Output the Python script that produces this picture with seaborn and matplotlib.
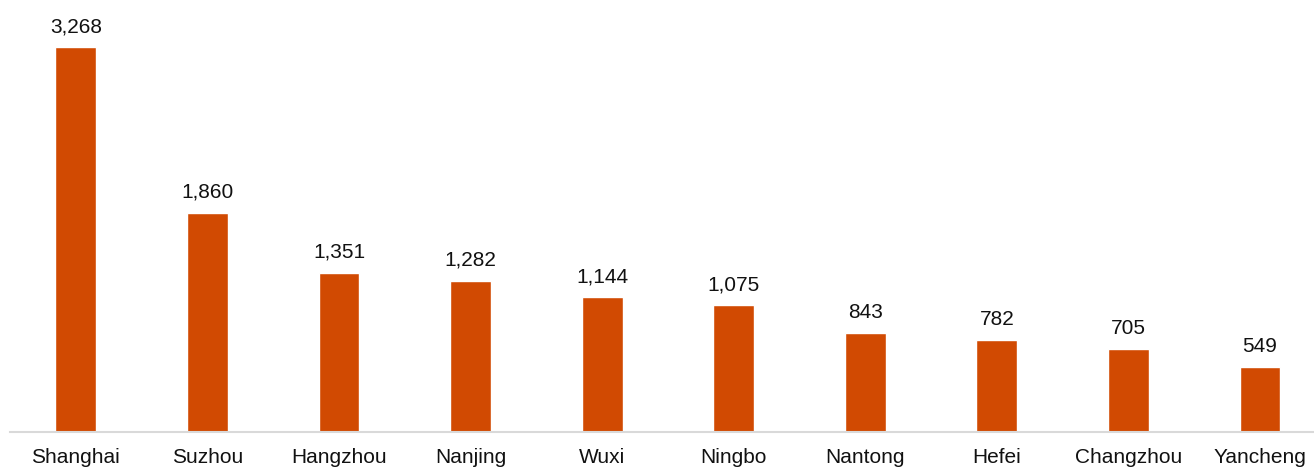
import matplotlib
matplotlib.use("Agg")
import matplotlib.pyplot as plt
import seaborn as sns

cities = ["Shanghai", "Suzhou", "Hangzhou", "Nanjing", "Wuxi",
          "Ningbo", "Nantong", "Hefei", "Changzhou", "Yancheng"]
values = [3268, 1860, 1351, 1282, 1144, 1075, 843, 782, 705, 549]

bar_color = "#D14A02"

sns.set_theme(style="white")
plt.rcParams["font.family"] = ["Liberation Sans", "DejaVu Sans"]

fig = plt.figure(figsize=(13.14, 4.68), dpi=100)
ax = fig.add_axes([10 / 1314, (468 - 432) / 468, 1304 / 1314, 432 / 468])

sns.barplot(x=cities, y=values, color=bar_color, saturation=1, width=0.31, ax=ax)

ax.set_xlim(-0.5, 9.41)
ax.set_ylim(0, 3667)

for i, v in enumerate(values):
    ax.annotate(f"{v:,}", xy=(i, v), xytext=(0, 10.8), textcoords="offset points",
                ha="center", va="baseline", fontsize=15, color="#111111")

for side in ["top", "right", "left"]:
    ax.spines[side].set_visible(False)
ax.spines["bottom"].set_color("#d9d9d9")
ax.spines["bottom"].set_linewidth(1.5)

ax.set_yticks([])
ax.tick_params(axis="x", length=0, pad=11.5, labelsize=15, labelcolor="#111111")
ax.set_xlabel("")
ax.set_ylabel("")
ax.patch.set_alpha(0)

fig.savefig("out.png", dpi=100, facecolor="white")
